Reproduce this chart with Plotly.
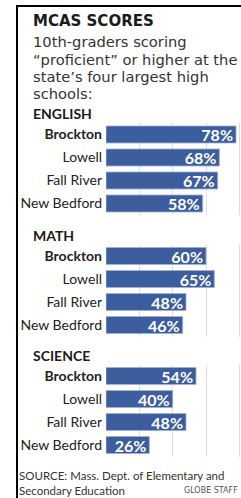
import plotly.graph_objects as go

schools = ["Brockton", "Lowell", "Fall River", "New Bedford"]
english = [78, 68, 67, 58]
math_scores = [60, 65, 48, 46]
science = [54, 40, 48, 26]
sections = ["ENGLISH", "MATH", "SCIENCE"]
tick_labels = ["<b>Brockton</b>", "Lowell", "Fall River", "New Bedford"]

title = "MCAS SCORES"
subtitle_lines = ["10th-graders scoring", "\u201cproficient\u201d or higher at the",
                  "state\u2019s four largest high", "schools:"]
source_lines = ["SOURCE: Mass. Dept. of Elementary and", "Secondary Education"]
credit = "GLOBE STAFF"

W, H = 241, 498
BAR = "#3c5e9f"

def py(px):
    return 1 - px / H

fig = go.Figure()
data = [english, math_scores, science]
ydoms = [(123, 215), (244.5, 336.5), (364.5, 456.5)]
header_y = [114, 235, 355.5]

layout = dict(width=W, height=H, margin=dict(l=0, r=0, t=0, b=0),
              paper_bgcolor="white", plot_bgcolor="white", showlegend=False,
              bargap=0.26)

for i, vals in enumerate(data):
    sfx = "" if i == 0 else str(i + 1)
    fig.add_trace(go.Bar(
        x=vals, y=schools, orientation="h",
        xaxis="x" + sfx, yaxis="y" + sfx,
        marker=dict(color=BAR, line=dict(color="#9fb0d2", width=0.8)),
        text=[f"{v}%" for v in vals], textposition="inside",
        insidetextanchor="end", constraintext="none", cliponaxis=False,
        textfont=dict(family="Lato", size=16, color="white", weight="bold"),
        hoverinfo="skip",
    ))
    top, bot = ydoms[i]
    layout["xaxis" + sfx] = dict(
        domain=[106 / W, 1], range=[0, 81.0], anchor="y" + sfx,
        showgrid=True, gridcolor="#dcdcdc", gridwidth=1, dtick=20,
        showticklabels=False, zeroline=False, showline=False, ticks="",
        fixedrange=True)
    layout["yaxis" + sfx] = dict(
        domain=[py(bot), py(top)], anchor="x" + sfx,
        type="category", categoryorder="array", categoryarray=schools,
        range=[3.5, -0.5], tickmode="array", tickvals=schools,
        ticktext=tick_labels, ticks="", ticklabelstandoff=3,
        tickfont=dict(family="Lato", size=14, color="#222222"),
        showgrid=False, zeroline=False, showline=False, fixedrange=True)

ann = []
ann.append(dict(text=f"<b>{title}</b>", x=31 / W, y=py(21), xref="paper", yref="paper",
                xanchor="left", yanchor="middle", showarrow=False,
                font=dict(family="DejaVu Sans", size=15, color="#1a1a1a")))
for j, (line, yc) in enumerate(zip(subtitle_lines, [41, 59, 76.5, 93.5])):
    ann.append(dict(text=line, x=31 / W, y=py(yc), xref="paper", yref="paper",
                    xanchor="left", yanchor="middle", showarrow=False,
                    font=dict(family="DejaVu Sans", size=14.7, color="#333333")))
for s, yc in zip(sections, header_y):
    ann.append(dict(text=f"<b>{s}</b>", x=31 / W, y=py(yc), xref="paper", yref="paper",
                    xanchor="left", yanchor="middle", showarrow=False,
                    font=dict(family="Lato", size=14, color="#1a1a1a")))
ann.append(dict(text="<br>".join(source_lines), x=18 / W, y=py(483), xref="paper", yref="paper",
                xanchor="left", yanchor="middle", align="left", showarrow=False,
                borderpad=0,
                font=dict(family="Lato", size=11.5, color="#333333")))
ann.append(dict(text=credit, x=239 / W, y=py(490.5), xref="paper", yref="paper",
                xanchor="right", yanchor="middle", showarrow=False, borderpad=0,
                font=dict(family="DejaVu Sans", size=8, color="#555555")))
layout["annotations"] = ann

layout["shapes"] = [
    dict(type="line", xref="paper", yref="paper", x0=17 / W, x1=17 / W,
         y0=py(5), y1=0, line=dict(color="black", width=2)),
    dict(type="line", xref="paper", yref="paper", x0=16 / W, x1=1,
         y0=py(6), y1=py(6), line=dict(color="black", width=2)),
]

fig.update_layout(**layout)
fig.write_html("out.html", config={"displayModeBar": False},
               post_script="document.body.style.margin='0';document.body.style.overflow='hidden';")
